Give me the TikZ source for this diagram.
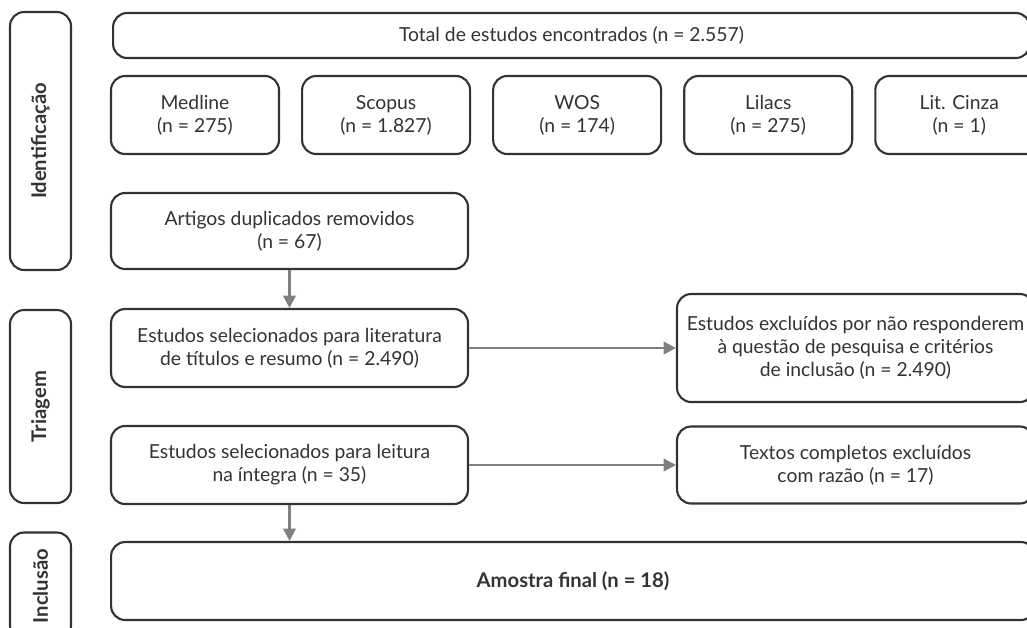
\documentclass[tikz,border=0pt]{standalone}
\usepackage{fontspec}
\setmainfont{Lato}
\usetikzlibrary{positioning,arrows.meta}
\definecolor{boxgray}{HTML}{333333}
\definecolor{arrowgray}{HTML}{808080}
\tikzset{
  stagebox/.style={draw=boxgray, line width=1.2pt, rounded corners=8pt, rotate=90,
                   minimum height=1.22cm, text=boxgray, font=\bfseries\fontsize{11.5}{13}\selectfont},
  flowbox/.style={draw=boxgray, line width=1.2pt, rounded corners=8pt, align=center,
                  text=boxgray, inner sep=2pt, font=\fontsize{11}{13}\selectfont},
  srcbox/.style={flowbox, minimum width=3.36cm, minimum height=1.56cm},
  widebox/.style={flowbox, minimum width=7.14cm, minimum height=1.56cm},
  fwd/.style={-{Triangle[length=7pt,width=7pt]}, line width=1.5pt, draw=arrowgray},
}
\begin{document}
\begin{tikzpicture}[x=0.02cm, y=-0.02cm]
  \clip (0,0) rectangle (1027,627);
  \fill[white] (0,0) rectangle (1027,627);

  % fases
  \node[stagebox, minimum width=5.16cm] (ident) at (40.5,141) {Identificação};
  \node[stagebox, minimum width=3.86cm] (triagem) at (40.5,406.5) {Triagem};
  \node[stagebox, minimum width=2.14cm] (inclusao) at (40.5,586) {Inclusão};

  % identificacao
  \node[flowbox, minimum width=18.34cm, minimum height=0.9cm] (total) at (571.5,35.5) {Total de estudos encontrados (n = 2.557)};
  \node[srcbox] (medline) at (195,115) {Medline\\(n = 275)};
  \node[srcbox, right=0.42cm of medline] (scopus) {Scopus\\(n = 1.827)};
  \node[srcbox, right=0.42cm of scopus] (wos) {WOS\\(n = 174)};
  \node[srcbox, right=0.42cm of wos] (lilacs) {Lilacs\\(n = 275)};
  \node[srcbox, right=0.42cm of lilacs] (cinza) {Lit. Cinza\\(n = 1)};
  \node[widebox, minimum height=1.52cm] (dup) at (289.5,231) {Artigos duplicados removidos\\(n = 67)};

  % triagem
  \node[widebox] (sel1) at (289.5,348) {Estudos selecionados para literatura\\de títulos e resumo (n = 2.490)};
  \node[widebox] (sel2) at (289.5,465) {Estudos selecionados para leitura\\na íntegra (n = 35)};
  \node[widebox, minimum height=2.16cm] (exc1) at (855.5,348) {Estudos excluídos por não responderem\\à questão de pesquisa e critérios\\de inclusão (n = 2.490)};
  \node[widebox, minimum height=1.54cm] (exc2) at (855.5,465) {Textos completos excluídos\\com razão (n = 17)};

  % inclusao
  \node[flowbox, minimum width=18.48cm, minimum height=1.56cm, font=\bfseries\fontsize{11.5}{13}\selectfont] (final) at (573,581) {Amostra final (n = 18)};

  \draw[fwd] (dup) -- (sel1);
  \draw[fwd] (sel1) -- (exc1);
  \draw[fwd] (sel2) -- (exc2);
  \draw[fwd] (sel2.south) -- (sel2.south |- final.north);
\end{tikzpicture}
\end{document}
